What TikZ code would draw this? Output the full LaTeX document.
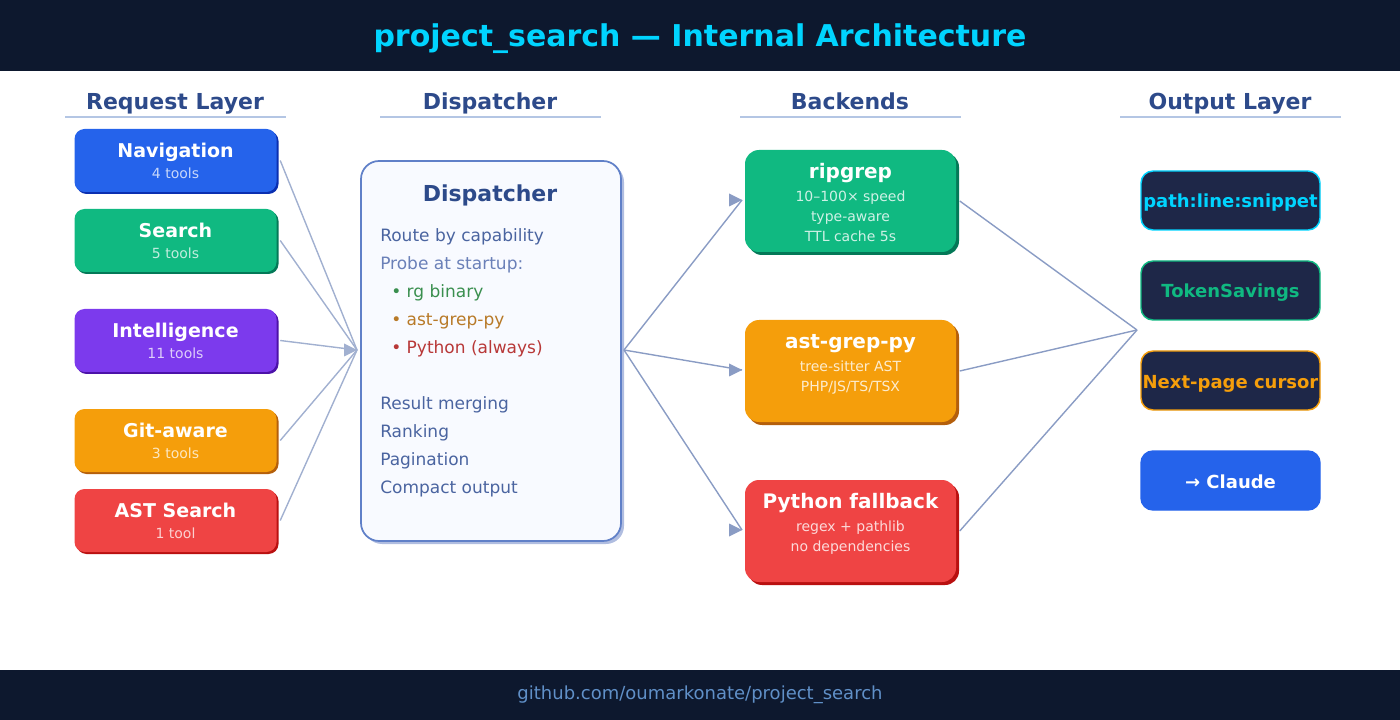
\documentclass[tikz,border=0pt]{standalone}
\usepackage{fontspec}
\setmainfont{DejaVu Sans}
\usetikzlibrary{shapes, arrows, positioning, calc, shadows}

\definecolor{bandnavy}{HTML}{0D182E}
\definecolor{titlecyan}{HTML}{00D4FF}
\definecolor{headblue}{HTML}{2D4A8A}
\definecolor{headrulecol}{HTML}{B4C6E4}
\definecolor{flowcol}{HTML}{8A9CC4}
\definecolor{footblue}{HTML}{6090C8}
\definecolor{navcol}{HTML}{2563EB}
\definecolor{navdark}{HTML}{0A2FB0}
\definecolor{searchcol}{HTML}{10B981}
\definecolor{searchdark}{HTML}{047857}
\definecolor{intelcol}{HTML}{7C3AED}
\definecolor{inteldark}{HTML}{4C12A8}
\definecolor{gitcol}{HTML}{F59E0B}
\definecolor{gitdark}{HTML}{B45F0B}
\definecolor{astcol}{HTML}{EF4444}
\definecolor{astdark}{HTML}{B91010}
\definecolor{dispfill}{HTML}{F8FAFF}
\definecolor{dispedge}{HTML}{6080C8}
\definecolor{dispdark}{HTML}{B0BDE0}
\definecolor{disptext}{HTML}{4A64A0}
\definecolor{dispmuted}{HTML}{6A80B8}
\definecolor{rggreen}{HTML}{3A8F4F}
\definecolor{astbrown}{HTML}{B87A28}
\definecolor{pyred}{HTML}{B83838}
\definecolor{outfill}{HTML}{1E2748}

\setlength{\lineskip}{0pt}
\newcommand{\boxtitle}[1]{{\fontsize{14.25}{16}\selectfont\bfseries\rule[-5.25pt]{0pt}{21pt}#1}}
\newcommand{\backtitle}[1]{{\fontsize{15}{16}\selectfont\bfseries\rule[-6.75pt]{0pt}{24.75pt}#1}}
\newcommand{\boxsub}[1]{{\fontsize{10.5}{15}\selectfont\color{subcol}\rule[-4.5pt]{0pt}{15pt}#1}}
\newcommand{\flowmark}[2][flowcol]{\fill[#1] ([shift={(-13,-6.5)}]#2) -- (#2) -- ([shift={(-13,6.5)}]#2) -- cycle;}

\tikzset{
    band/.style={fill=bandnavy, inner sep=0pt, minimum width=1050pt},
    layerhead/.style={text=headblue, inner sep=0pt, text height=12pt, text depth=0pt, font=\fontsize{16.5}{18}\selectfont\bfseries},
    headrule/.style={fill=headrulecol, inner sep=0pt, minimum width=165.75pt, minimum height=1.5pt},
    reqbox/.style 2 args={rectangle, rounded corners=7.5pt, fill=#1, inner sep=0pt, text=white, align=center, minimum width=151.5pt, minimum height=47.25pt,
        execute at begin node={\colorlet{subcol}{white!75!#1}},
        drop shadow={shadow xshift=1.5pt, shadow yshift=-1.5pt, fill=#2, opacity=1}},
    backbox/.style 2 args={rectangle, rounded corners=10.5pt, fill=#1, inner sep=0pt, text=white, align=center, minimum width=158.25pt, minimum height=76.5pt,
        execute at begin node={\colorlet{subcol}{white!80!#1}},
        drop shadow={shadow xshift=2.25pt, shadow yshift=-2.25pt, fill=#2, opacity=1}},
    outbox/.style={rectangle, rounded corners=9pt, draw=#1, line width=1.1pt, fill=outfill, text=#1, inner sep=0pt,
        minimum width=134.25pt, minimum height=44.25pt, text height=11.25pt, text depth=0pt, font=\fontsize{13.5}{15}\selectfont\bfseries},
    flow/.style={draw=flowcol, line width=1.05pt},
    flowlight/.style={draw=flowcol!80, line width=1.05pt}
}

\begin{document}
\begin{tikzpicture}[x=0.75pt, y=-0.75pt]
    \useasboundingbox (0,0) rectangle (1400,720);

    \node[band, minimum height=53.25pt, text=titlecyan, text height=16.5pt, text depth=0pt, font=\fontsize{22.5}{26}\selectfont\bfseries] (header) at (700,35.5) {project\_search — Internal Architecture};
    \node[band, minimum height=37.5pt, text=footblue, font=\fontsize{13.5}{15}\selectfont] (footer) at (700,695) {github.com/oumarkonate/project\_search};

    \node[layerhead] (headreq) at (175,101.5) {Request Layer};
    \node[layerhead] (headdisp) at (490,101.5) {Dispatcher};
    \node[layerhead] (headback) at (850,101.5) {Backends};
    \node[layerhead] (headout) at (1230,101.5) {Output Layer};
    \node[headrule] (rulereq) at (175.5,117) {};
    \node[headrule] (ruledisp) at (490.5,117) {};
    \node[headrule] (ruleback) at (850.5,117) {};
    \node[headrule] (ruleout) at (1230.5,117) {};

    \node[reqbox={navcol}{navdark}] (nav) at (175.5,160.5) {\boxtitle{Navigation}\\\boxsub{4 tools}};
    \node[reqbox={searchcol}{searchdark}] (search) at (175.5,240.5) {\boxtitle{Search}\\\boxsub{5 tools}};
    \node[reqbox={intelcol}{inteldark}] (intel) at (175.5,340.5) {\boxtitle{Intelligence}\\\boxsub{11 tools}};
    \node[reqbox={gitcol}{gitdark}] (git) at (175.5,440.5) {\boxtitle{Git-aware}\\\boxsub{3 tools}};
    \node[reqbox={astcol}{astdark}] (ast) at (175.5,520.5) {\boxtitle{AST Search}\\\boxsub{1 tool}};

    \node[rectangle, rounded corners=13.5pt, draw=dispedge, line width=1.3pt, fill=dispfill, minimum width=195pt, minimum height=285pt,
        drop shadow={shadow xshift=2.25pt, shadow yshift=-2.25pt, fill=dispdark, opacity=1}] (disp) at (491,351) {};
    \node[layerhead] (disptitle) at (490,193.5) {Dispatcher};
    \node[anchor=north west, inner sep=0pt, align=left, text=disptext, font=\fontsize{12.75}{21}\selectfont] (displist) at (380,228.5) {%
        Route by capability\\
        \textcolor{dispmuted}{Probe at startup:}\\
        \hspace*{8.25pt}\textcolor{rggreen}{• rg binary}\\
        \hspace*{8.25pt}\textcolor{astbrown}{• ast-grep-py}\\
        \hspace*{8.25pt}\textcolor{pyred}{• Python (always)}\\
        \mbox{}\\
        Result merging\\
        Ranking\\
        Pagination\\
        Compact output};

    \node[backbox={searchcol}{searchdark}] (rip) at (850.5,201) {\backtitle{ripgrep}\\\boxsub{10–100× speed}\\\boxsub{type-aware}\\\boxsub{TTL cache 5s}};
    \node[backbox={gitcol}{gitdark}] (grep) at (850.5,371) {\backtitle{ast-grep-py}\\\boxsub{tree-sitter AST}\\\boxsub{PHP/JS/TS/TSX}\\\boxsub{}};
    \node[backbox={astcol}{astdark}] (py) at (850.5,531) {\backtitle{Python fallback}\\\boxsub{regex + pathlib}\\\boxsub{no dependencies}\\\boxsub{}};

    \node[outbox=titlecyan] (outpath) at (1230.5,200.5) {path:line:snippet};
    \node[outbox=searchcol] (outsave) at (1230.5,290.5) {TokenSavings};
    \node[outbox=gitcol] (outnext) at (1230.5,380.5) {Next-page cursor};
    \node[outbox=navcol, fill=navcol, text=white] (outclaude) at (1230.5,480.5) {→ Claude};

    \coordinate (hubin) at (357,350);
    \coordinate (hubdisp) at (624,350);
    \coordinate (hubout) at (1137,330);
    \coordinate (tiprip) at (742,200);
    \coordinate (tipgrep) at (742,370);
    \coordinate (tippy) at (742,530);

    \draw[flowlight] ([xshift=2.6pt]nav.east) -- (hubin);
    \draw[flowlight] ([xshift=2.6pt]search.east) -- (hubin);
    \draw[flowlight] ([xshift=2.6pt]intel.east) -- (hubin);
    \draw[flowlight] ([xshift=2.6pt]git.east) -- (hubin);
    \draw[flowlight] ([xshift=2.6pt]ast.east) -- (hubin);
    \flowmark[flowcol!80]{hubin}

    \draw[flow] (hubdisp) -- (tiprip);
    \draw[flow] (hubdisp) -- (tipgrep);
    \draw[flow] (hubdisp) -- (tippy);
    \flowmark{tiprip}
    \flowmark{tipgrep}
    \flowmark{tippy}

    \draw[flow] ([xshift=2.6pt]rip.east) -- (hubout);
    \draw[flow] ([xshift=2.6pt]grep.east) -- (hubout);
    \draw[flow] ([xshift=2.6pt]py.east) -- (hubout);
\end{tikzpicture}
\end{document}
